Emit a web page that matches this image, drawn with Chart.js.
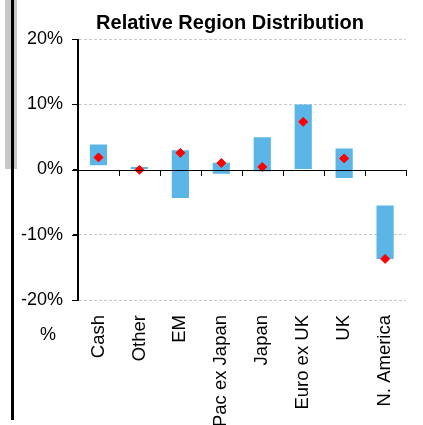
<!DOCTYPE html>
<html>
<head>
<meta charset="utf-8">
<script src="https://cdn.jsdelivr.net/npm/chart.js@4/dist/chart.umd.min.js"></script>
<style>
  html, body { margin: 0; padding: 0; background: #fff; overflow: hidden; }
  #wrap { position: relative; width: 423px; height: 425px; }
  #chart { position: absolute; left: 0; top: 0; }
  .sideBar { position: absolute; left: 5px; top: 0; width: 12px; height: 169px; background: #c8c8c8; }
  .sideLine { position: absolute; left: 11px; top: 0; width: 3px; height: 420px; background: #000; }
</style>
</head>
<body>
<div id="wrap">
  <div class="sideBar"></div>
  <div class="sideLine"></div>
  <canvas id="chart" width="423" height="425"></canvas>
</div>
<script>
// Region ranges (min / max relative weight, %) and current position
const categories = ['Cash', 'Other', 'EM', 'Pac ex Japan', 'Japan', 'Euro ex UK', 'UK', 'N. America'];
const rangeLow = [0.65, 0.0, -4.35, -0.65, -0.25, 0.0, -1.3, -13.7];
const rangeHigh = [3.85, 0.4, 2.95, 1.05, 4.95, 9.95, 3.2, -5.5];
const current = [1.85, -0.05, 2.55, 1.0, 0.4, 7.3, 1.7, -13.7];
const yTicks = [-20, -10, 0, 10, 20];

Chart.defaults.font.family = "'Liberation Sans', Arial, sans-serif";
Chart.defaults.color = '#000';

// axis lines, tick marks, title and the "%" unit label
const extras = {
    id: 'extras',
    afterDraw(chart) {
        const { ctx, chartArea, scales } = chart;
        const y0 = Math.round(scales.y.getPixelForValue(0));
        const xl = Math.round(chartArea.left);
        const step = (chartArea.right - chartArea.left) / categories.length;
        ctx.save();
        ctx.fillStyle = '#000';
        // zero line with category ticks
        ctx.fillRect(xl, y0, Math.round(chartArea.right) - xl + 1, 1);
        for (let i = 1; i <= categories.length; i++) {
            ctx.fillRect(Math.round(chartArea.left + i * step), y0, 1, 6);
        }
        // value axis with outside ticks
        ctx.fillRect(xl - 1, Math.round(chartArea.top), 2, Math.round(chartArea.bottom - chartArea.top) + 1);
        yTicks.forEach(v => {
            ctx.fillRect(xl - 6, Math.round(scales.y.getPixelForValue(v)), 6, 1);
        });
        ctx.textAlign = 'center';
        ctx.textBaseline = 'alphabetic';
        ctx.font = "bold 20px 'Liberation Sans', Arial, sans-serif";
        ctx.fillText('Relative Region Distribution', 230, 29);
        ctx.font = "18px 'Liberation Sans', Arial, sans-serif";
        ctx.fillText('%', 48, chartArea.bottom + 40);
        ctx.restore();
    }
};

const ctx = document.getElementById('chart').getContext('2d');
const chart = new Chart(ctx, {
    type: 'bar',
    data: {
        labels: categories,
        datasets: [{
            type: 'line',
            label: 'Current',
            data: current,
            showLine: false,
            pointStyle: 'rectRot',
            pointRadius: 4.5,
            pointBackgroundColor: '#ff0000',
            pointBorderColor: '#ff0000',
            pointBorderWidth: 1,
            order: 0
        }, {
            label: 'Range',
            data: categories.map((c, i) => [rangeLow[i], rangeHigh[i]]),
            backgroundColor: '#5bb5e6',
            borderWidth: 0,
            barPercentage: 0.42,
            categoryPercentage: 1,
            order: 1
        }]
    },
    options: {
        responsive: false,
        animation: false,
        layout: { padding: { left: 0, right: 11, top: 39, bottom: 0 } },
        plugins: {
            legend: { display: false },
            title: { display: false },
            tooltip: { enabled: false }
        },
        scales: {
            x: {
                grid: { display: false, drawTicks: false },
                border: { display: false },
                ticks: {
                    autoSkip: false,
                    maxRotation: 90,
                    minRotation: 90,
                    padding: 15,
                    font: { size: 18.5 }
                },
                afterFit(scale) { scale.height = 125; }
            },
            y: {
                min: -20,
                max: 20,
                afterBuildTicks(scale) { scale.ticks = yTicks.map(v => ({ value: v })); },
                ticks: {
                    padding: 10,
                    font: { size: 18 },
                    callback: v => v + '%'
                },
                grid: {
                    color: c => (c.tick && c.tick.value === 0 ? 'rgba(0,0,0,0)' : '#c8c8c8'),
                    tickColor: '#000',
                    tickLength: 5,
                    tickBorderDash: []
                },
                border: { color: '#000', width: 1, dash: [3, 2] },
                afterFit(scale) { scale.width = 78; }
            }
        }
    },
    plugins: [extras]
});
</script>
</body>
</html>
